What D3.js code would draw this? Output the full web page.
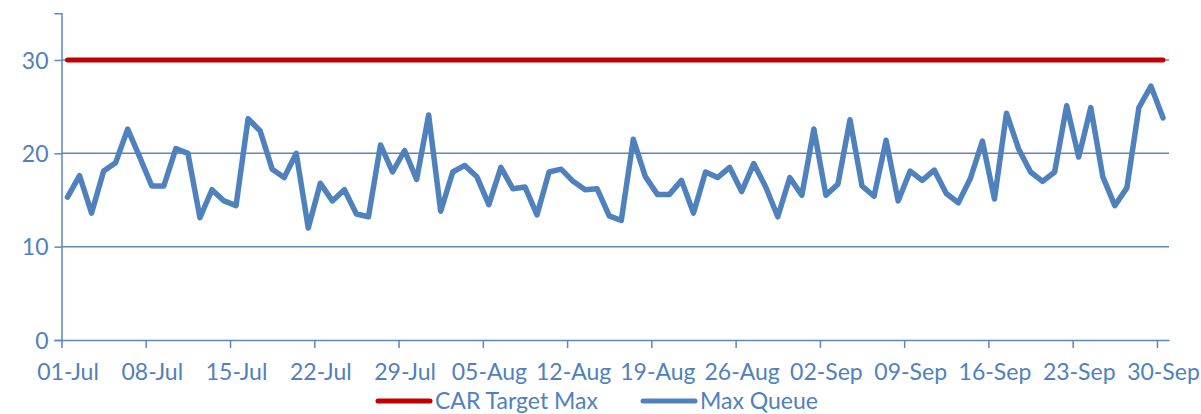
<!DOCTYPE html>
<html><head><meta charset="utf-8">
<script src="https://cdn.jsdelivr.net/npm/d3@7"></script>
<style>
html,body{margin:0;padding:0;background:#fff;}
svg{display:block;}
text{font-family:Lato,"Open Sans",sans-serif;fill:#4f81bd;}
</style></head>
<body>
<svg id="chart" width="1201" height="414"></svg>
<script>
// ---- data ----
const startDate = "2013-07-01";
const endDate = "2013-10-01";
const maxQueue = [15.3,17.6,13.6,18.1,19.0,22.6,19.6,16.5,16.5,20.5,20.0,13.1,16.1,14.9,14.4,23.7,22.4,18.3,17.4,20.0,
  12.0,16.8,14.9,16.1,13.5,13.2,20.9,18.0,20.3,17.2,24.1,13.8,18.0,18.7,17.5,14.5,18.5,16.2,16.4,13.4,
  18.0,18.3,17.0,16.1,16.2,13.3,12.8,21.5,17.5,15.6,15.6,17.1,13.6,18.0,17.4,18.5,15.9,18.9,16.4,13.2,
  17.4,15.5,22.6,15.5,16.7,23.6,16.5,15.4,21.4,14.9,18.1,17.1,18.2,15.7,14.7,17.3,21.3,15.1,24.3,20.5,
  18.0,17.0,18.0,25.1,19.6,24.9,17.5,14.4,16.3,24.9,27.2,23.8];
const carTargetMax = maxQueue.map(() => 30);
const tickLabels = ["01-Jul","08-Jul","15-Jul","22-Jul","29-Jul","05-Aug","12-Aug","19-Aug","26-Aug","02-Sep","09-Sep","16-Sep","23-Sep","30-Sep"];
const yTicks = [0,10,20,30];
const seriesNames = ["CAR Target Max","Max Queue"];
const seriesColors = ["#c00000","#4f81bd"];

// ---- scales ----
const svg = d3.select("#chart");
const DAY = 864e5;
const t0 = new Date(startDate + "T00:00:00Z"), t1 = new Date(endDate + "T00:00:00Z");
const x = d3.scaleUtc().domain([t0, t1]).range([61.5, 1169]);
const y = d3.scaleLinear().domain([0, 35]).range([340, 13.3]);
const dates = maxQueue.map((_, i) => new Date(t0.getTime() + i * DAY));
const mid = d => new Date(d.getTime() + DAY / 2);
const tickDates = tickLabels.map((_, k) => new Date(t0.getTime() + k * 7 * DAY));
const axisColor = "#5b86c0";
const FS = "23px";

// gridlines
svg.append("g").selectAll("line").data(yTicks.filter(v => v > 0)).join("line")
  .attr("x1", x(t0)).attr("x2", x(t1))
  .attr("y1", d => y(d)).attr("y2", d => y(d))
  .attr("stroke", axisColor).attr("stroke-width", 1.5);

// y axis
const yAxis = svg.append("g").attr("transform", `translate(${x(t0)},0)`)
  .call(d3.axisLeft(y).tickValues(yTicks).tickSize(7).tickPadding(6).tickFormat(d3.format("d")));
yAxis.select(".domain").attr("stroke", axisColor).attr("stroke-width", 1.5);
yAxis.selectAll(".tick line").attr("stroke", axisColor).attr("stroke-width", 1.5);
yAxis.selectAll("text").style("font-size", FS).attr("fill", "#4f81bd").attr("dy", "0.36em");

// x axis
const xAxis = svg.append("g").attr("transform", `translate(0,${y(0)})`)
  .call(d3.axisBottom(x).tickValues(tickDates).tickSize(8).tickSizeOuter(0)
    .tickFormat((d, i) => tickLabels[i]));
xAxis.select(".domain").attr("stroke", axisColor).attr("stroke-width", 1.5);
xAxis.selectAll(".tick line").attr("stroke", axisColor).attr("stroke-width", 1.5);
xAxis.selectAll("text").style("font-size", FS).attr("fill", "#4f81bd")
  .attr("x", x(mid(t0)) - x(t0)).attr("y", 24).attr("dy", "0.71em");

// lines
const line = d3.line().x((d, i) => x(mid(dates[i]))).y(d => y(d));
svg.append("path").datum(carTargetMax).attr("d", line)
  .attr("fill", "none").attr("stroke", seriesColors[0]).attr("stroke-width", 5)
  .attr("stroke-linecap", "round").attr("stroke-linejoin", "round");
svg.append("path").datum(maxQueue).attr("d", line)
  .attr("fill", "none").attr("stroke", seriesColors[1]).attr("stroke-width", 5.5)
  .attr("stroke-linecap", "round").attr("stroke-linejoin", "round");

// legend
const legendX = [378, 643];
const lg = svg.append("g").selectAll("g").data(seriesNames).join("g")
  .attr("transform", (d, i) => `translate(${legendX[i]},401)`);
lg.append("line").attr("x1", 0).attr("x2", 52).attr("y1", 0).attr("y2", 0)
  .attr("stroke", (d, i) => seriesColors[i]).attr("stroke-width", 5).attr("stroke-linecap", "round");
lg.append("text").attr("x", 57).attr("y", 8).style("font-size", FS).text(d => d);
</script>
</body></html>
